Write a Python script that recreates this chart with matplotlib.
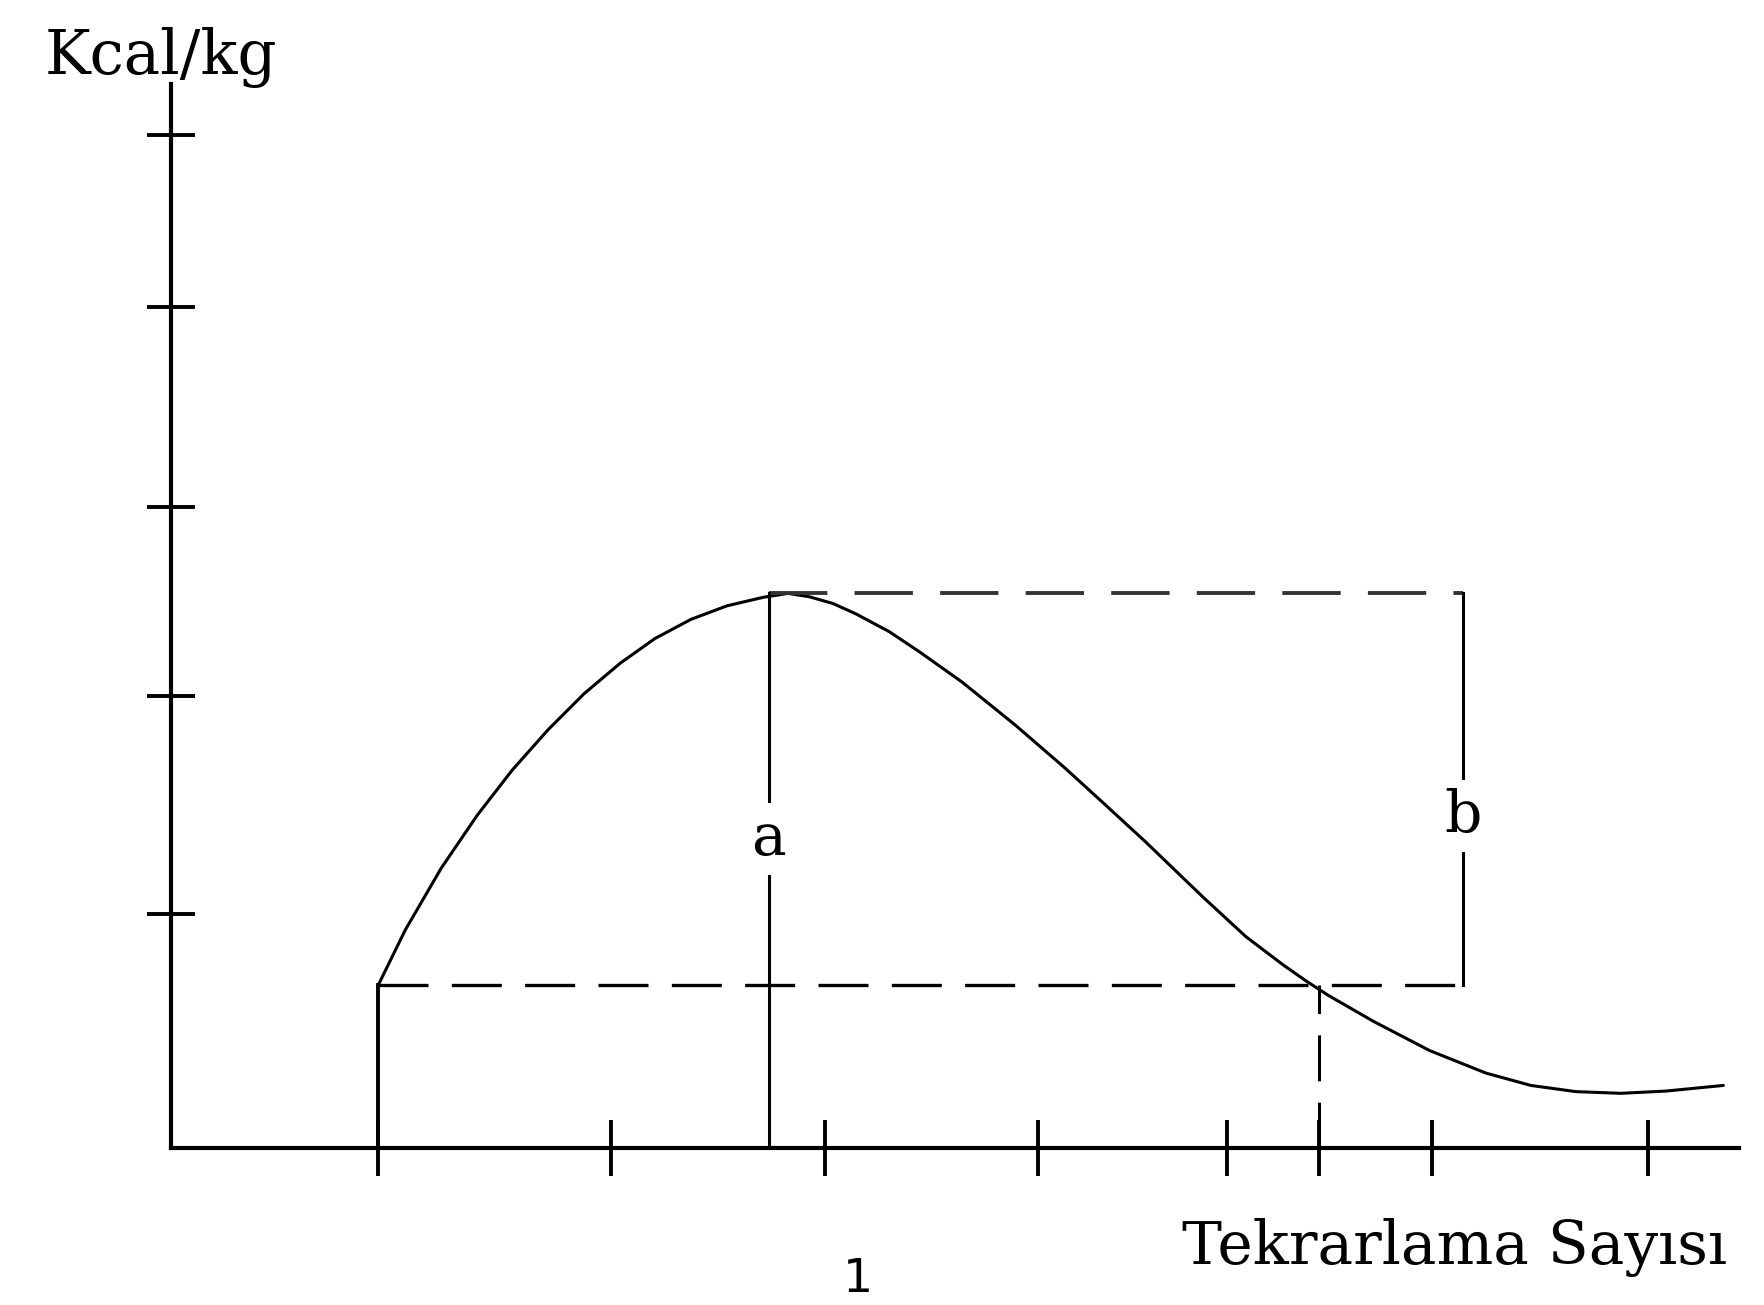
import numpy as np
import matplotlib
matplotlib.use('Agg')
import matplotlib.pyplot as plt

# data (x: repetitions, y: kcal/kg, arbitrary units)
x_ticks = [1.84, 3.91, 5.81, 7.70, 9.38, 10.20, 11.20, 13.12]
y_ticks = [2.08, 4.02, 5.70, 7.47, 9.00]

curve_x = [1.84, 2.08, 2.40, 2.72, 3.03, 3.35, 3.67, 3.99, 4.30, 4.62,
           4.94, 5.26, 5.48, 5.67, 5.88, 6.08, 6.38, 6.65, 7.03, 7.50,
           7.94, 8.28, 8.65, 9.17, 9.55, 9.88, 10.08, 10.28, 10.68, 11.18,
           11.68, 12.08, 12.48, 12.88, 13.28, 13.79]
curve_y = [1.45, 1.94, 2.49, 2.96, 3.36, 3.72, 4.04, 4.31, 4.53, 4.70,
           4.82, 4.895, 4.93, 4.90, 4.84, 4.75, 4.59, 4.41, 4.14, 3.76,
           3.38, 3.07, 2.73, 2.23, 1.88, 1.63, 1.49, 1.36, 1.13, 0.87,
           0.67, 0.56, 0.505, 0.49, 0.51, 0.56]

start_x, start_y = 1.84, 1.45     # first point of the curve
peak_x, peak_y = 5.31, 4.93       # maximum
cross_x = 10.20                   # where curve falls back to start level
box_x = 11.48                     # right side of the b bracket
a_y, b_y = 2.75, 2.95             # label heights

fig = plt.figure(figsize=(17.65, 13.05), dpi=100)
ax = fig.add_axes([152/1568, 1-1020/1159, (1545-152)/1568, (1020-75)/1159])
ax.set_xlim(0, 13.93)
ax.set_ylim(0, 9.45)

for s in ['top', 'right']:
    ax.spines[s].set_visible(False)
for s in ['left', 'bottom']:
    ax.spines[s].set_linewidth(3.0)

ax.set_xticks(x_ticks)
ax.set_yticks(y_ticks)
ax.set_xticklabels([])
ax.set_yticklabels([])
ax.tick_params(axis='x', direction='inout', length=40, width=2.8)
ax.tick_params(axis='y', direction='inout', length=34, width=2.8)

lw = 2.2
dash = (0, (15, 7))

ax.plot(curve_x, curve_y, color='k', lw=lw, solid_joinstyle='round',
        solid_capstyle='round')

# dashed guide lines
ax.plot([start_x, box_x], [start_y, start_y], color='k', lw=2.4, linestyle=dash)
ax.plot([peak_x, box_x], [peak_y, peak_y], color='#333333', lw=2.8, linestyle=dash)
ax.plot([cross_x, cross_x], [0, start_y], color='k', lw=2.2, linestyle=dash)

# solid verticals
ax.plot([start_x, start_x], [0, start_y], color='k', lw=2.8)
ax.plot([peak_x, peak_x], [0, peak_y], color='k', lw=lw)
ax.plot([box_x, box_x], [start_y, peak_y], color='k', lw=lw)

ax.text(peak_x, a_y, 'a', ha='center', va='center', fontsize=42,
        family='DejaVu Serif', bbox=dict(fc='white', ec='none', pad=6))
ax.text(box_x, b_y, 'b', ha='center', va='center', fontsize=42,
        family='DejaVu Serif', bbox=dict(fc='white', ec='none', pad=6))

fig.text(40/1568, 1-66/1159, 'Kcal/kg', fontsize=44, family='DejaVu Serif',
         ha='left', va='baseline')
fig.text(1050/1568, 1-1123/1159, 'Tekrarlama Sayısı', fontsize=43,
         family='DejaVu Serif', ha='left', va='baseline')
fig.text(762/1568, 3/1159, '1', fontsize=34, ha='center', va='bottom')

fig.savefig('out.png', dpi=100)
